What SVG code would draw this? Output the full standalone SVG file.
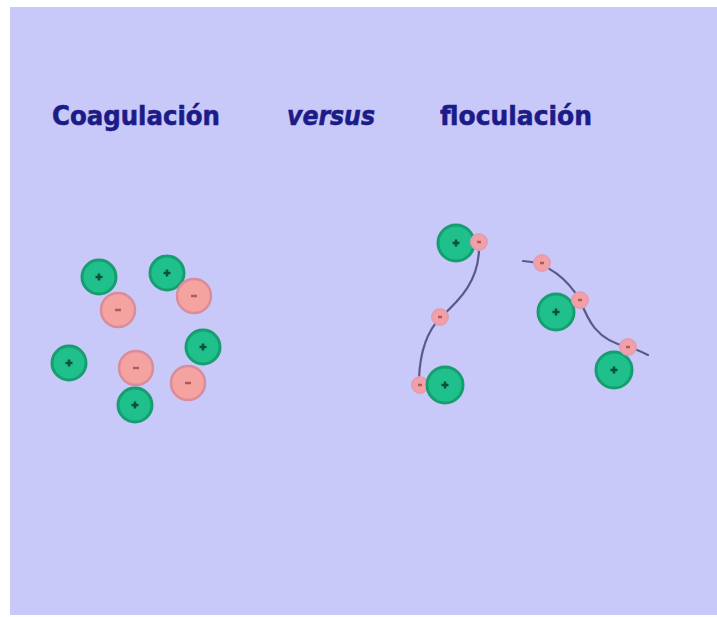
<svg xmlns="http://www.w3.org/2000/svg" width="717" height="617" viewBox="0 0 717 617">
<defs>
<style>
.title{font-family:"DejaVu Sans","Liberation Sans",sans-serif;font-weight:bold;font-size:27px;fill:#1c1c88;stroke:#1c1c88;stroke-width:0.6}
.pos{fill:#20c08c;stroke:#179e70;stroke-width:3}
.neg{fill:#f5a3a0;stroke:#d98c9a;stroke-width:2.5}
.negs{fill:#f2a0a8;stroke:#e49cb2;stroke-width:2}
.mark{stroke:#0b5038;stroke-width:2.5;fill:none}
.markn{stroke:#b05a50;stroke-width:2.5;fill:none}
.chain{fill:none;stroke:#5a5a8a;stroke-width:2.2;stroke-linecap:round}
</style>
<g id="plus"><circle r="17" class="pos"/><path class="mark" d="M-3.5 0H3.5M0 -3.5V3.5"/></g>
<g id="minus"><circle r="17" class="neg"/><path class="markn" d="M-3 0H3"/></g>
<g id="plusB"><circle r="18" class="pos"/><path class="mark" d="M-3.5 0H3.5M0 -3.5V3.5"/></g>
<g id="minusS"><circle r="8" class="negs"/><path class="markn" d="M-2 0H2"/></g>
</defs>
<rect x="0" y="0" width="717" height="617" fill="#ffffff"/>
<rect x="10" y="7" width="707" height="608" fill="#c9c9f9"/>
<g id="titles">
<text class="title" x="52" y="125" textLength="168" lengthAdjust="spacingAndGlyphs">Coagulación</text>
<text class="title" x="287" y="125" font-style="italic" textLength="88" lengthAdjust="spacingAndGlyphs">versus</text>
<text class="title" x="440" y="125" textLength="152" lengthAdjust="spacingAndGlyphs">floculación</text>
</g>
<g id="connectors">
<path class="chain" d="M479 250 C478 280 462 298 441 317 C428 330 420 350 419 379"/>
<path class="chain" d="M523 261 C548 262 568 280 580 300 C588 320 596 340 628 347 C636 349 642 352 648 355"/>
</g>
<g id="coagulation">
<use id="c-p1" href="#plus" x="99" y="277"/>
<use id="c-n1" href="#minus" x="118" y="310"/>
<use id="c-p2" href="#plus" x="167" y="273"/>
<use id="c-n2" href="#minus" x="194" y="296"/>
<use id="c-p3" href="#plus" x="69" y="363"/>
<use id="c-n3" href="#minus" x="136" y="368"/>
<use id="c-p4" href="#plus" x="203" y="347"/>
<use id="c-n4" href="#minus" x="188" y="383"/>
<use id="c-p5" href="#plus" x="135" y="405"/>
</g>
<g id="flocculation">
<use id="f-pA" href="#plusB" x="456" y="243"/>
<use id="f-na1" href="#minusS" x="479" y="242"/>
<use id="f-na2" href="#minusS" x="440" y="317"/>
<use id="f-na3" href="#minusS" x="420" y="385"/>
<use id="f-pB" href="#plusB" x="445" y="385"/>
<use id="f-nb1" href="#minusS" x="542" y="263"/>
<use id="f-pC" href="#plusB" x="556" y="312"/>
<use id="f-nb2" href="#minusS" x="580" y="300"/>
<use id="f-pD" href="#plusB" x="614" y="370"/>
<use id="f-nb3" href="#minusS" x="628" y="347"/>
</g>
</svg>
